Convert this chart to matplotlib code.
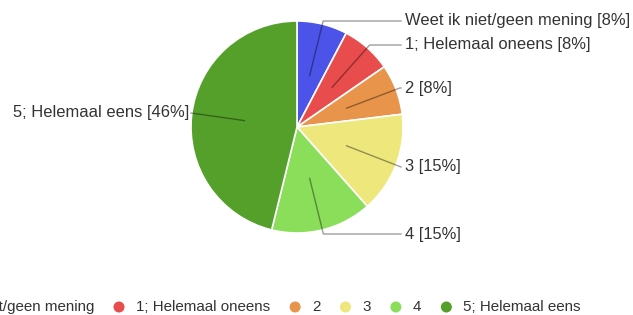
import numpy as np
import matplotlib
matplotlib.use("Agg")
import matplotlib.pyplot as plt

plt.rcParams['font.family'] = ['Liberation Sans', 'DejaVu Sans']

# antwoorden (aantal respondenten per categorie)
categorieen = ['Weet ik niet/geen mening', '1; Helemaal oneens', '2', '3', '4', '5; Helemaal eens']
aantallen = [1, 1, 1, 2, 2, 6]
percentages = ['8%', '8%', '8%', '15%', '15%', '46%']
kleuren = ['#4b53e8', '#e84c4c', '#e8944a', '#ede77c', '#8ade5a', '#55a02a']

# layout (pixels, y vanaf boven)
W, H = 633, 315
cx, cy, R = 297, 127, 106
label_y = [21, 45, 88, 167, 234, 113]
label_x_rechts = 405
label_x_links = 189

fig = plt.figure(figsize=(W / 100, H / 100), dpi=100)
ax = fig.add_axes([0, 0, 1, 1])
ax.set_xlim(0, W)
ax.set_ylim(0, H)
ax.axis('off')

wedges, _ = ax.pie(aantallen, colors=kleuren, startangle=90, counterclock=False,
                   center=(cx, H - cy), radius=R,
                   wedgeprops=dict(edgecolor='white', linewidth=1.2))
ax.set_xlim(0, W)
ax.set_ylim(0, H)
ax.set_aspect('equal')

fs_label = 11.9
for w, cat, pct, ly in zip(wedges, categorieen, percentages, label_y):
    hoek = np.deg2rad((w.theta1 + w.theta2) / 2)
    x0 = cx + 0.5 * R * np.cos(hoek)
    y0 = (H - cy) + 0.5 * R * np.sin(hoek)
    yl = H - ly
    # punt op de straal ter hoogte van het label
    t = (yl - (H - cy)) / np.sin(hoek)
    xe = cx + t * np.cos(hoek)
    tekst = f'{cat} [{pct}]'
    if np.cos(hoek) >= 0:
        xe = min(xe, label_x_rechts - 4)
        ax.plot([x0, xe, label_x_rechts - 4], [y0, yl, yl], color='black', alpha=0.38, lw=1)
        ax.text(label_x_rechts, yl, tekst, ha='left', va='center', fontsize=fs_label, color='#333333')
    else:
        xe = max(xe, label_x_links + 2)
        ax.plot([x0, xe, label_x_links + 2], [y0, yl, yl], color='black', alpha=0.38, lw=1)
        ax.text(label_x_links, yl, tekst, ha='right', va='center', fontsize=fs_label, color='#333333')

# legenda onderaan, handmatig opgebouwd
fig.canvas.draw()
renderer = fig.canvas.get_renderer()
leg_y = H - 307
fs_leg = 10.9
stip_tekst = 17
tekst_stip = 25

def breedte(s):
    t = ax.text(0, 0, s, fontsize=fs_leg)
    b = t.get_window_extent(renderer).width
    t.remove()
    return b

posities = [None] * len(categorieen)
posities[1] = 119  # middelpunt van de tweede stip
for i in range(2, len(categorieen)):
    posities[i] = posities[i - 1] + stip_tekst + breedte(categorieen[i - 1]) + tekst_stip
posities[0] = posities[1] - tekst_stip - breedte(categorieen[0]) - stip_tekst

for px, cat, kl in zip(posities, categorieen, kleuren):
    ax.scatter([px], [leg_y], s=63, color=kl, edgecolor='none', clip_on=False)
    ax.text(px + stip_tekst, leg_y, cat, ha='left', va='center', fontsize=fs_leg, color='#333333')

fig.savefig('out.png', dpi=100)
